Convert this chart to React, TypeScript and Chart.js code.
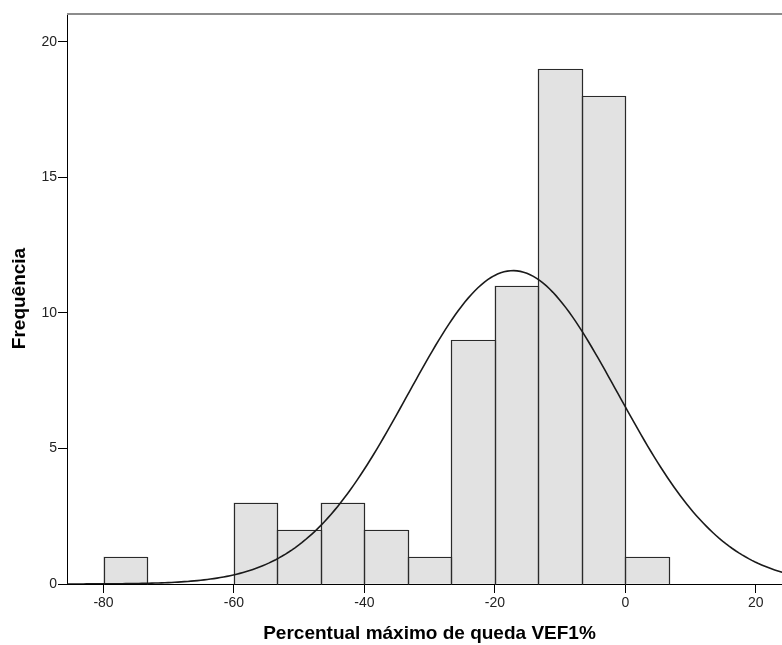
import React, { useEffect, useRef } from "react";
import { Chart, registerables } from "chart.js";

Chart.register(...registerables);

// Histogram bins (left edges), bin width and frequencies
const BIN_WIDTH = 20 / 3;
const BIN_LEFT_EDGES = [-80, -73.333, -66.667, -60, -53.333, -46.667, -40, -33.333, -26.667, -20, -13.333, -6.667, 0];
const COUNTS = [1, 0, 0, 3, 2, 3, 2, 1, 9, 11, 19, 18, 1];

// Fitted normal curve parameters
const CURVE_MEAN = -17.2;
const CURVE_SD = 16.1;
const CURVE_N = 70;

// Axes
const X_MIN = -85.6;
const X_MAX = 25.55;
const Y_MIN = 0;
const Y_MAX = 21.07;
const X_STEP = 20;
const Y_STEP = 5;
const X_TITLE = "Percentual máximo de queda VEF1%";
const Y_TITLE = "Frequência";

const FONT = "'Liberation Sans', Arial, sans-serif";

export default function App() {
  const ref = useRef<HTMLCanvasElement | null>(null);

  useEffect(() => {
    const canvas = ref.current;
    if (!canvas) return;

    const barData = BIN_LEFT_EDGES.map((e, i) => ({ x: e + BIN_WIDTH / 2, y: COUNTS[i] }));
    const curve: { x: number; y: number }[] = [];
    const amp = (CURVE_N * BIN_WIDTH) / (CURVE_SD * Math.sqrt(2 * Math.PI));
    for (let x = X_MIN; x <= X_MAX + 0.001; x += 0.5) {
      const z = (x - CURVE_MEAN) / CURVE_SD;
      curve.push({ x, y: amp * Math.exp(-0.5 * z * z) });
    }

    const outlinePlugin = {
      id: "histOutline",
      afterDatasetDraw(chart: any, args: any) {
        if (args.index !== 0) return;
        const ctx = chart.ctx;
        ctx.save();
        ctx.strokeStyle = "#2a2a2a";
        ctx.lineWidth = 1.2;
        args.meta.data.forEach((el: any, i: number) => {
          if (!COUNTS[i]) return;
          const p = el.getProps(["x", "y", "base", "width"], true);
          const l = Math.round(p.x - p.width / 2) + 0.5;
          const r = Math.round(p.x + p.width / 2) + 0.5;
          const t = Math.round(p.y) + 0.5;
          const b = Math.round(p.base) + 0.5;
          ctx.beginPath();
          ctx.moveTo(l, b);
          ctx.lineTo(l, t);
          ctx.lineTo(r, t);
          ctx.lineTo(r, b);
          ctx.stroke();
        });
        ctx.restore();
      },
    };

    const framePlugin = {
      id: "topFrame",
      afterDraw(chart: any) {
        const { ctx, chartArea } = chart;
        ctx.save();
        ctx.strokeStyle = "#8c8c8c";
        ctx.lineWidth = 2;
        ctx.beginPath();
        ctx.moveTo(chartArea.left, chartArea.top + 1);
        ctx.lineTo(chartArea.right, chartArea.top + 1);
        ctx.stroke();
        ctx.restore();
      },
    };

    const chart = new Chart(canvas, {
      type: "bar",
      data: {
        datasets: [
          {
            type: "bar",
            data: barData,
            backgroundColor: "#e2e2e2",
            borderWidth: 0,
            barPercentage: 1,
            categoryPercentage: 1,
            order: 1,
          } as any,
          {
            type: "line",
            data: curve,
            borderColor: "#1a1a1a",
            borderWidth: 1.6,
            pointRadius: 0,
            fill: false,
            tension: 0,
            order: 0,
          } as any,
        ],
      },
      options: {
        responsive: false,
        maintainAspectRatio: false,
        animation: false,
        devicePixelRatio: 1,
        layout: { padding: { top: 13, left: 0, right: 0, bottom: 0 } },
        plugins: { legend: { display: false }, tooltip: { enabled: false } },
        scales: {
          x: {
            type: "linear",
            min: X_MIN,
            max: X_MAX,
            offset: false,
            afterFit: (s: any) => {
              s.height = 61;
            },
            grid: {
              display: true,
              offset: false,
              drawOnChartArea: false,
              drawTicks: true,
              tickLength: 9,
              color: "#000",
              lineWidth: 1,
            },
            border: { display: true, color: "#000", width: 1 },
            ticks: {
              stepSize: X_STEP,
              includeBounds: false,
              padding: 2,
              color: "#222",
              font: { family: FONT, size: 14 },
              maxRotation: 0,
            },
            title: {
              display: true,
              text: X_TITLE,
              color: "#000",
              font: { family: FONT, size: 19, weight: "bold" },
              padding: { top: 0, bottom: 0 },
            },
          },
          y: {
            type: "linear",
            min: Y_MIN,
            max: Y_MAX,
            afterFit: (s: any) => {
              s.width = 67;
            },
            grid: {
              display: true,
              drawOnChartArea: false,
              drawTicks: true,
              tickLength: 9,
              color: "#000",
              lineWidth: 1,
            },
            border: { display: true, color: "#000", width: 1 },
            ticks: {
              stepSize: Y_STEP,
              includeBounds: false,
              padding: 1,
              color: "#222",
              font: { family: FONT, size: 14 },
            },
            title: {
              display: true,
              text: Y_TITLE,
              color: "#000",
              font: { family: FONT, size: 19, weight: "bold" },
              padding: { top: 8, bottom: 0 },
            },
          },
        },
      },
      plugins: [outlinePlugin, framePlugin],
    });

    return () => chart.destroy();
  }, []);

  return (
    <div style={{ position: "absolute", left: 0, top: 0, width: 782, height: 645, overflow: "hidden", background: "#fff" }}>
      <canvas ref={ref} width={792} height={645} style={{ display: "block" }} />
    </div>
  );
}
